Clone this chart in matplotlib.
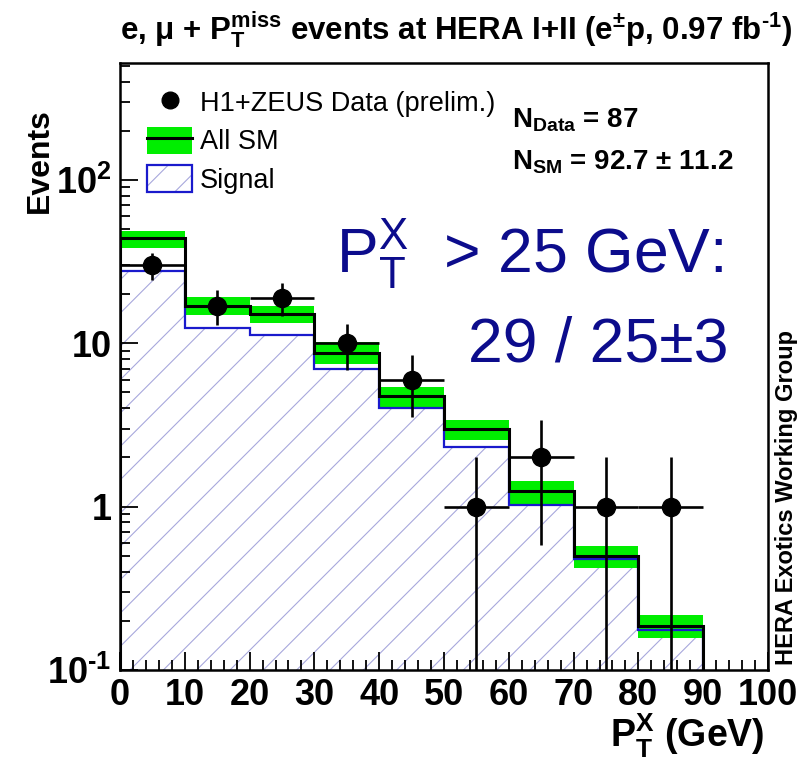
import numpy as np
import matplotlib
matplotlib.use("Agg")
import matplotlib.pyplot as plt
from matplotlib.patches import Patch
from matplotlib.lines import Line2D
from matplotlib.ticker import FixedLocator, FixedFormatter, LogLocator, MultipleLocator, NullFormatter

plt.rcParams['font.family'] = ['Liberation Sans', 'DejaVu Sans']
plt.rcParams['mathtext.fontset'] = 'custom'
plt.rcParams['mathtext.rm'] = 'Liberation Sans:bold'
plt.rcParams['mathtext.it'] = 'Liberation Sans:bold'
plt.rcParams['mathtext.bf'] = 'Liberation Sans:bold'
plt.rcParams['mathtext.sf'] = 'Liberation Sans'
plt.rcParams['mathtext.default'] = 'bf'
plt.rcParams['axes.unicode_minus'] = False
plt.rcParams['hatch.linewidth'] = 0.8

# bins in P_T^X (GeV)
edges = np.arange(0, 100, 10)
# H1+ZEUS data
data = np.array([30, 17, 19, 10, 6, 1, 2, 1, 1])
# all SM expectation and its uncertainty band
sm = np.array([44.2, 16.9, 15.1, 8.75, 4.73, 3.0, 1.24, 0.50, 0.185])
sm_lo = np.array([38.4, 14.9, 13.3, 7.5, 3.97, 2.55, 1.03, 0.42, 0.156])
sm_hi = np.array([48.8, 19.2, 16.9, 10.2, 5.4, 3.37, 1.44, 0.575, 0.218])
# signal (W production)
signal = np.array([27.9, 12.4, 11.2, 6.98, 4.0, 2.32, 1.02, 0.48, 0.175])

ytick_vals = [0.1, 1, 10, 100]
ytick_labels = [r'10$^{\text{-}1}$', '1', '10', '10$^{2}$']

centers = 0.5 * (edges[:-1] + edges[1:])
ymin, ymax = 0.1, 520

fig = plt.figure(figsize=(8.02, 7.68), dpi=100)
ax = fig.add_axes([120/802, 98/768, 648/802, 607/768])

hatch_col = '#a8a8dc'
green = '#00ee00'

# signal hatched fill + blue outline
ax.stairs(signal, edges, baseline=1e-3, fill=True, facecolor='white',
          edgecolor=hatch_col, hatch='/', linewidth=0, zorder=1)
ax.bar(centers, sm_hi - sm_lo, bottom=sm_lo, width=10, color=green, lw=0, zorder=2)
ax.stairs(signal, edges, baseline=1e-3, color='#1a1acc', lw=1.6, zorder=3)
ax.stairs(sm, edges, baseline=1e-3, color='black', lw=2.2, zorder=4)

# data points with sqrt(N) errors
err_hi = np.sqrt(data)
err_lo = np.minimum(np.sqrt(data), data * 0.999)
ax.errorbar(centers, data, xerr=5, yerr=[err_lo, err_hi], fmt='o', color='black',
            ms=13, elinewidth=1.9, capsize=0, zorder=5)

ax.set_yscale('log')
ax.set_xlim(0, 100)
ax.set_ylim(ymin, ymax)

ax.xaxis.set_major_locator(MultipleLocator(10))
ax.xaxis.set_minor_locator(MultipleLocator(2))
ax.yaxis.set_major_locator(FixedLocator(ytick_vals))
ax.yaxis.set_major_formatter(FixedFormatter(ytick_labels))
ax.yaxis.set_minor_locator(LogLocator(base=10, subs=np.arange(2, 10)))
ax.yaxis.set_minor_formatter(NullFormatter())
ax.tick_params(which='both', direction='in', top=False, right=False, width=1.3)
ax.tick_params(which='major', length=13, labelsize=26, pad=6)
ax.tick_params(which='minor', length=7)
for lab in ax.get_xticklabels() + ax.get_yticklabels():
    lab.set_fontweight('bold')
for sp in ax.spines.values():
    sp.set_linewidth(1.8)

# legend
handles = [Line2D([], [], marker='o', ls='none', color='black', ms=12),
           (Patch(facecolor=green, edgecolor='none'), Line2D([], [], color='black', lw=2.2)),
           (Patch(facecolor='white', edgecolor=hatch_col, hatch='/', lw=0),
            Patch(facecolor='none', edgecolor='#1a1acc', lw=1.6))]
labels = ['H1+ZEUS Data (prelim.)', 'All SM', 'Signal']
ax.legend(handles, labels, loc='upper left', bbox_to_anchor=(0.042, 0.958),
          frameon=False, fontsize=19.5, borderpad=0, borderaxespad=0,
          handlelength=1.65, handleheight=1.15, handletextpad=0.3, labelspacing=0.36)

# event counts
ax.text((512-120)/648, (670-128)/607, r'N$_{\mathbf{Data}}$ = 87', transform=ax.transAxes,
        fontsize=20, fontweight='bold', va='baseline', ha='left')
ax.text((512-120)/648, (670-169)/607, r'N$_{\mathbf{SM}}$ = 92.7 $\pm$ 11.2', transform=ax.transAxes,
        fontsize=20, fontweight='bold', va='baseline', ha='left')

navy = '#0c0c8c'
ax.text((723-120)/648, (670-273)/607, r'$\mathsf{P}_{\mathsf{T}}^{\mathsf{X}}$  > 25 GeV:',
        transform=ax.transAxes, fontsize=45, color=navy, va='baseline', ha='right')
ax.text((728-120)/648, (670-362)/607, '29 / 25±3',
        transform=ax.transAxes, fontsize=45, color=navy, va='baseline', ha='right')

# titles and axis labels
fig.text(456/802, 1 - 40/768,
         r'e, μ + P$_{T}^{miss}$ events at HERA I+II (e$^{\pm}$p, 0.97 fb$^{\text{-}1}$)',
         fontsize=22.5, fontweight='bold', ha='center', va='baseline')
fig.text(40/802, 1 - 108/768, 'Events', rotation=90, fontsize=23, fontweight='bold',
         ha='center', va='top')
fig.text(765/802, 1 - 748/768, r'P$_{T}^{X}$ (GeV)', fontsize=27, fontweight='bold',
         ha='right', va='baseline')
fig.text(786/802, 1 - 665/768, 'HERA Exotics Working Group', rotation=90, fontsize=17,
         fontweight='bold', ha='center', va='bottom')

fig.savefig('out.png', dpi=100)
